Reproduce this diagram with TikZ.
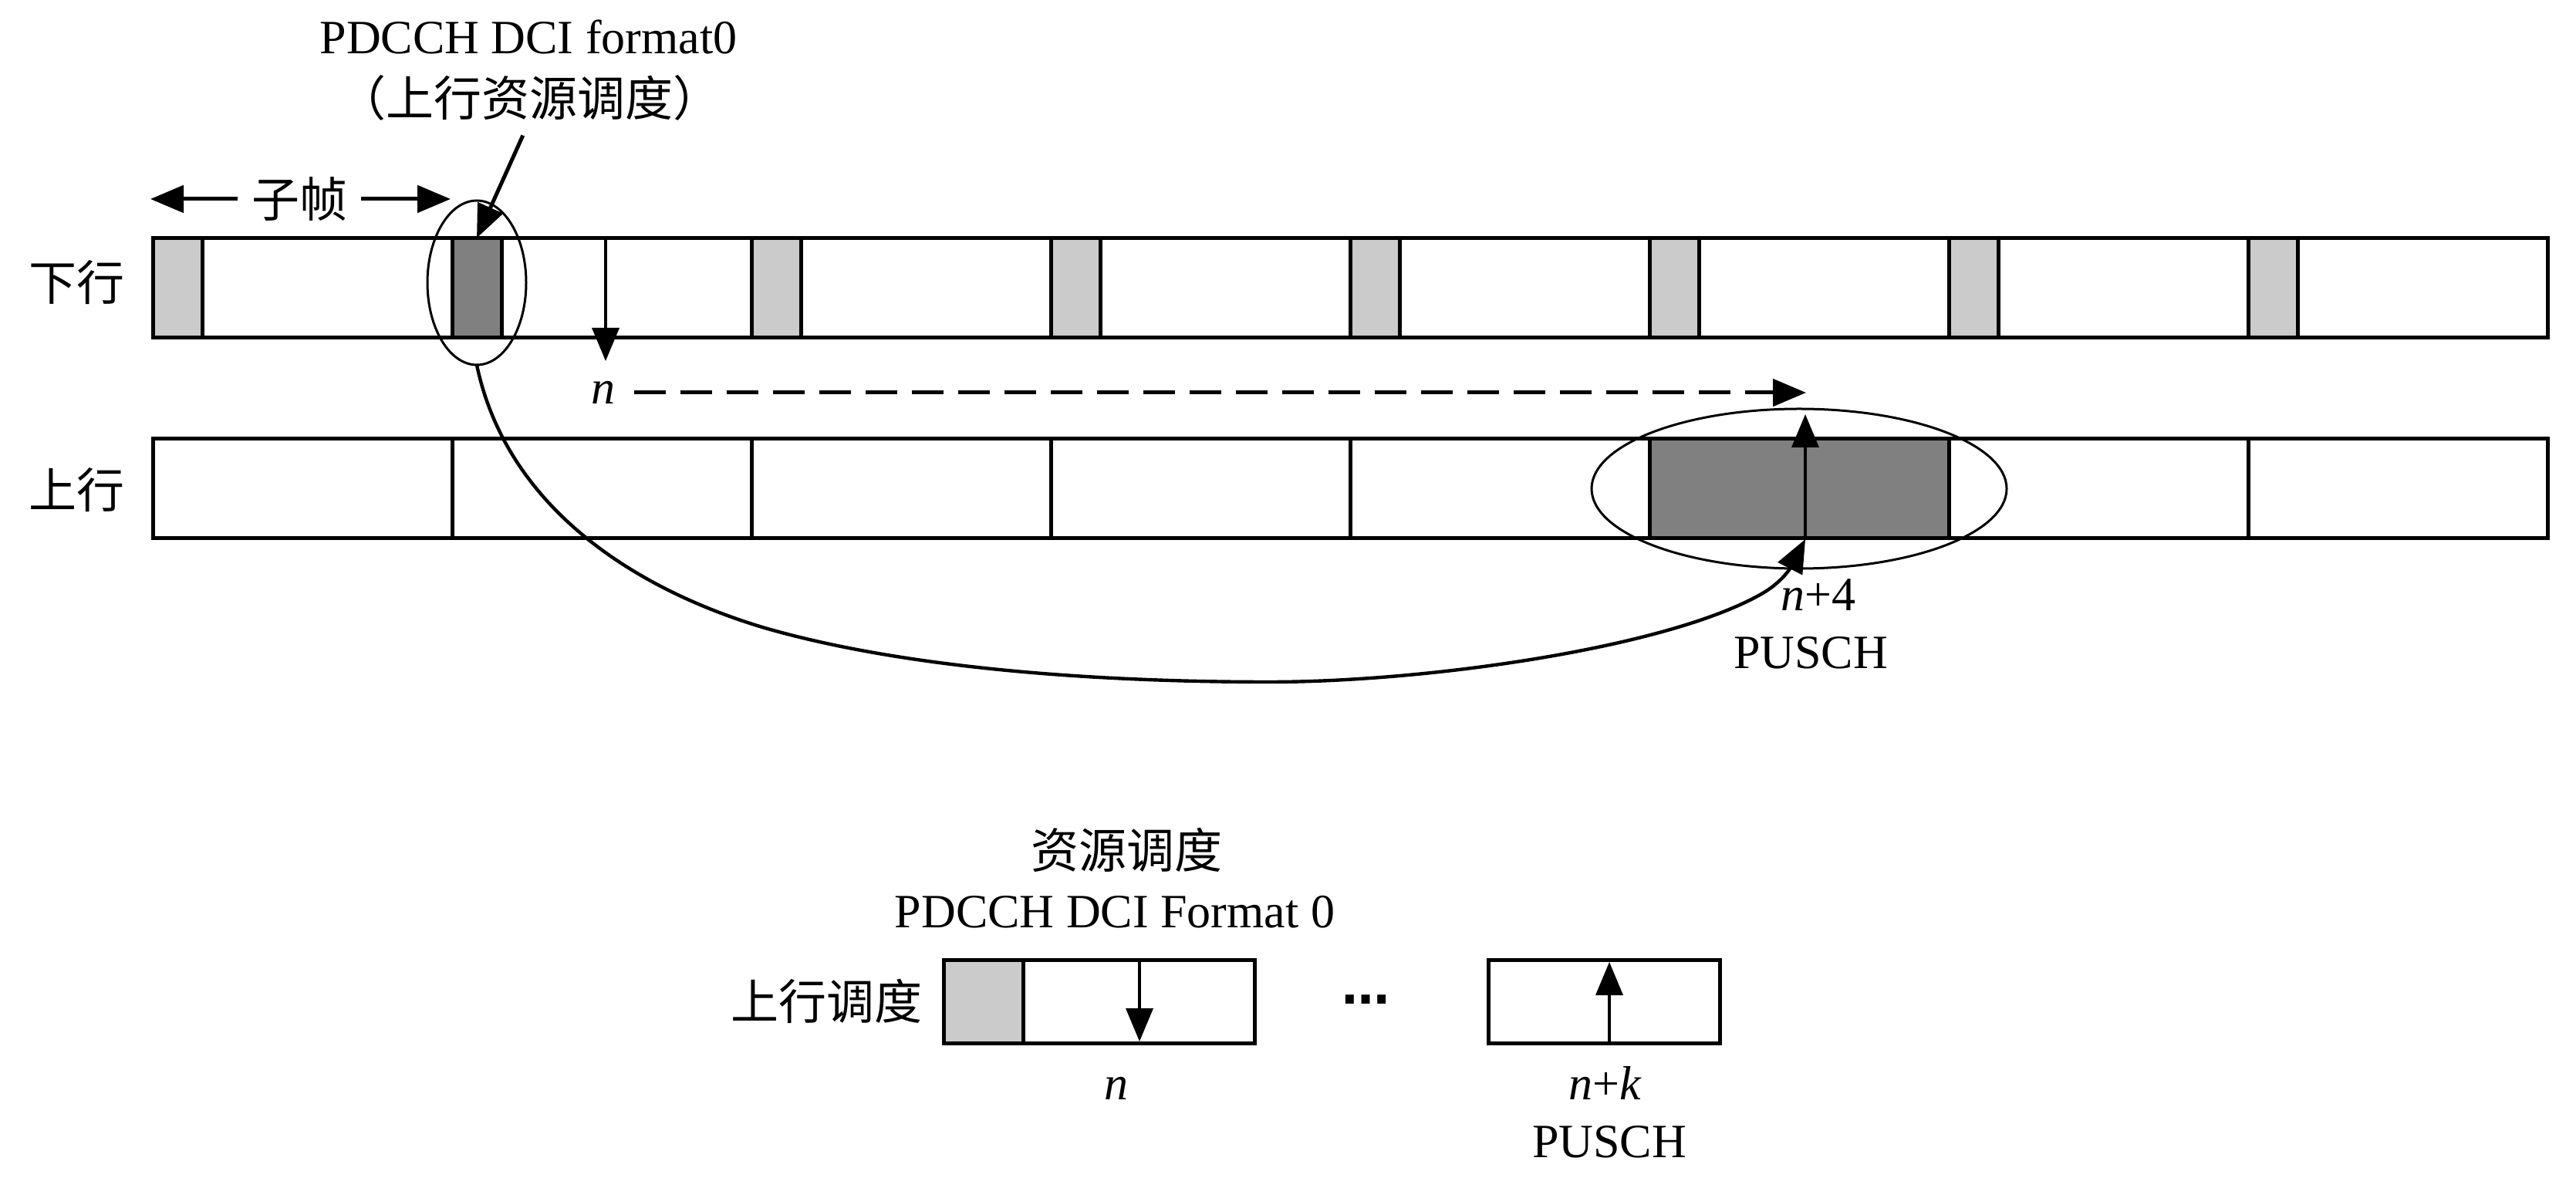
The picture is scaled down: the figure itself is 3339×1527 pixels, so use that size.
\documentclass[tikz,border=0pt]{standalone}
\usepackage{fontspec}
\setmainfont{Liberation Serif}
\newfontfamily\cjk{Noto Sans CJK SC}
\newfontfamily\dotfont{DejaVu Sans}
\usetikzlibrary{arrows.meta,shapes.geometric}
\definecolor{slotlight}{HTML}{CBCBCB}
\definecolor{slotdark}{HTML}{808080}
\tikzset{
    txt/.style={font=\fontsize{15.5}{18}\selectfont,inner sep=0pt},
    box/.style={draw,line width=1.25pt,anchor=north west,inner sep=0pt,outer sep=0pt},
    cell/.style={box,minimum width=97pt,minimum height=32.25pt},
    strip/.style={box,minimum width=776.1pt,minimum height=32.25pt},
    slot/.style={box,fill=slotlight,minimum width=16pt,minimum height=32.25pt},
    ring/.style={draw,ellipse,line width=.75pt,inner sep=0pt,outer sep=0pt},
    thinarrow/.style={-{Triangle[length=10.75pt,width=8.75pt]},line width=.9pt},
    boldarrow/.style={-{Triangle[length=10.75pt,width=8.75pt]},line width=1.25pt},
}
\begin{document}
\begin{tikzpicture}[x=0.25pt,y=0.25pt,yscale=-1]
            \useasboundingbox (0,0) rectangle (3339,1527);
            \node[txt,anchor=base] (pdcchtop) at (685,70) {PDCCH DCI format0};
            \node[txt] (schedtop) at (686,127) {\cjk （上行资源调度）};
            \node[txt,outer sep=4.5pt] (subframe) at (388,258) {\cjk 子帧};
            \node[txt] (dllabel) at (99,366) {\cjk 下行};
            \node[txt] (ullabel) at (99,635) {\cjk 上行};
            \node[strip] (dlstrip) at (198,308.5) {};
            \node[slot] (dlslota) at (198,308.5) {};
            \node[slot,fill=slotdark] (dlslotb) at (586,308.5) {};
            \node[slot] (dlslotc) at (974,308.5) {};
            \node[slot] (dlslotd) at (1362,308.5) {};
            \node[slot] (dlslote) at (1750,308.5) {};
            \node[slot] (dlslotf) at (2138,308.5) {};
            \node[slot] (dlslotg) at (2526,308.5) {};
            \node[slot] (dlsloth) at (2914,308.5) {};
            \node[cell] (ula) at (198,568.3) {};
            \node[cell] (ulb) at (586,568.3) {};
            \node[cell] (ulc) at (974,568.3) {};
            \node[cell] (uld) at (1362,568.3) {};
            \node[cell] (ule) at (1750,568.3) {};
            \node[cell,fill=slotdark] (ulf) at (2138,568.3) {};
            \node[cell] (ulg) at (2526,568.3) {};
            \node[cell,minimum width=97.1pt] (ulh) at (2914,568.3) {};
            \node[ring,minimum width=32pt,minimum height=53.25pt] (dlring) at (618,366.5) {};
            \node[ring,minimum width=134.5pt,minimum height=51.75pt] (ulring) at (2332,633.5) {};
            \node[txt,outer sep=6pt] (nlabel) at (782,509) {\textit{n}};
            \node[txt,anchor=base] (nplusfour) at (2357,792) {\textit{n}+4};
            \node[txt,anchor=base] (puschtop) at (2347,867) {PUSCH};
            \coordinate (sfleft) at (195,258);
            \coordinate (sfright) at (584,258);
            \coordinate (ntop) at (785,309);
            \coordinate (ntip) at (785,468);
            \coordinate (dashtip) at (2341,509);
            \coordinate (ulbottom) at (2340,697);
            \coordinate (ultip) at (2340,537);
            \coordinate (curvetip) at (2340,699);
            \draw[boldarrow] (subframe.west) -- (sfleft) ;
            \draw[boldarrow] (subframe.east) -- (sfright) ;
            \draw[boldarrow,shorten <=5pt] (schedtop.south) -- (dlslotb.north) ;
            \draw[thinarrow] (ntop) -- (ntip) ;
            \draw[boldarrow,dash pattern=on 10.25pt off 4.75pt] (nlabel.east) -- (dashtip) ;
            \draw[thinarrow] (ulbottom) -- (ultip) ;
            \draw[boldarrow,line width=1.1pt] (dlring.south) .. controls (655,650) and (810,759) .. (988,813) .. controls (1190,872) and (1460,884) .. (1645,884) .. controls (1850,884) and (2160,840) .. (2283,770) .. controls (2315,752) and (2325,728) .. (curvetip) ;
            \node[txt] (schedbot) at (1460,1102) {\cjk 资源调度};
            \node[txt,anchor=base] (pdcchbot) at (1445,1202) {PDCCH DCI Format 0};
            \node[txt] (ulsched) at (1071,1298) {\cjk 上行调度};
            \node[box,minimum width=100.75pt,minimum height=27.1pt] (boxn) at (1223,1244) {};
            \node[box,fill=slotlight,minimum width=25.75pt,minimum height=27.1pt] (boxnslot) at (1223,1244) {};
            \node[box,minimum width=75pt,minimum height=27.1pt] (boxk) at (1929,1244) {};
            \node[txt] (dots) at (1770,1296) {\dotfont\bfseries …};
            \node[txt,anchor=base] (nbot) at (1447,1425) {\textit{n}};
            \node[txt,anchor=base] (nplusk) at (2081,1425) {\textit{n}+\textit{k}};
            \node[txt,anchor=base] (puschbot) at (2086,1500) {PUSCH};
            \coordinate (boxntop) at (1477,1244);
            \coordinate (boxntip) at (1477,1350);
            \coordinate (boxkbottom) at (2086,1352);
            \coordinate (boxktip) at (2086,1247);
            \draw[thinarrow] (boxntop) -- (boxntip) ;
            \draw[thinarrow] (boxkbottom) -- (boxktip) ;
        \end{tikzpicture}
\end{document}
